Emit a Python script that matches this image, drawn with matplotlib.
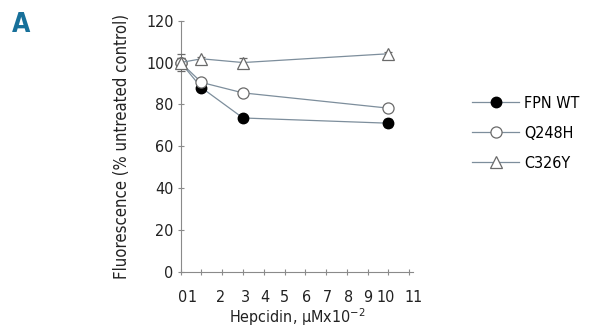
import matplotlib.pyplot as plt

# dose, hepcidin uM x 10^-2
dose = [0, 1, 3, 10]
fpn_wt = [100, 88, 73.5, 71]
q248h = [100, 90.5, 85.5, 78.2]
c326y = [100, 101.8, 100, 104.2]
fpn_wt_err = [2, 1, 1, 2]
q248h_err = [2, 1, 1, 1.5]
c326y_err = [4, 1, 2, 1]

x_ticks = list(range(0, 12))
# tick labels in the source figure sit slightly off their ticks
x_label_pos = [0.1, 0.55, 1.9, 3.1, 4.05, 5.0, 6.05, 7.05, 8.1, 9.0, 9.85, 11.2]
x_labels = [str(i) for i in x_ticks]
y_ticks = [0, 20, 40, 60, 80, 100, 120]

plt.rcParams["font.family"] = ["DejaVu Sans"]
plt.rcParams["font.stretch"] = "condensed"
plt.rcParams["mathtext.fontset"] = "dejavusans"

line_c = "#7d8e9c"
edge_c = "#6a6a6a"
txt_c = "#222222"
fs = 11.5

fig = plt.figure(figsize=(5.91, 3.32), dpi=100)
ax = fig.add_axes([0.3057, 0.1816, 0.3936, 0.756])

ax.errorbar(dose, fpn_wt, yerr=fpn_wt_err, color=line_c, lw=0.9, marker="o", ms=7.5,
            mfc="black", mec="black", ecolor=edge_c, elinewidth=0.7, capsize=3,
            label="FPN WT", clip_on=False, zorder=3)
ax.errorbar(dose, q248h, yerr=q248h_err, color=line_c, lw=0.9, marker="o", ms=8,
            mfc="white", mec=edge_c, mew=0.9, ecolor=edge_c, elinewidth=0.7, capsize=3,
            label="Q248H", clip_on=False, zorder=4)
ax.errorbar(dose, c326y, yerr=c326y_err, color=line_c, lw=0.9, marker="^", ms=9,
            mfc="white", mec=edge_c, mew=0.9, ecolor=edge_c, elinewidth=0.7, capsize=3,
            label="C326Y", clip_on=False, zorder=5)

ax.set_xlim(0, 11)
ax.set_ylim(0, 120)
for s in ["top", "right"]:
    ax.spines[s].set_visible(False)
for s in ["left", "bottom"]:
    ax.spines[s].set_color("#8a8a8a")
    ax.spines[s].set_linewidth(0.8)

ax.xaxis.remove_overlapping_locs = False
ax.set_xticks(x_ticks, [""] * len(x_ticks))
ax.set_xticks(x_label_pos, x_labels, minor=True)
ax.tick_params(axis="x", which="major", length=4, color="#8a8a8a", direction="inout")
ax.tick_params(axis="x", which="minor", length=0, pad=13, labelsize=fs, labelcolor=txt_c)
ax.set_yticks(y_ticks)
ax.tick_params(axis="y", length=4, color="#8a8a8a", direction="inout", labelsize=fs,
               labelcolor=txt_c, pad=3)

ax.set_ylabel("Fluorescence (% untreated control)", fontsize=12, color=txt_c, labelpad=11)
ax.set_xlabel("Hepcidin, μMx10$^{-2}$", fontsize=fs, color=txt_c, labelpad=1)

handles, labels = ax.get_legend_handles_labels()
handles = [h[0] for h in handles]
fig.legend(handles, labels, loc="upper left", bbox_to_anchor=(0.775, 0.755), frameon=False,
           fontsize=fs, handlelength=2.9, labelspacing=0.95, handletextpad=0.35)

fig.text(0.02, 0.905, "A", fontsize=19, fontweight="bold", color="#17709a")

fig.savefig("out.png", dpi=100)
